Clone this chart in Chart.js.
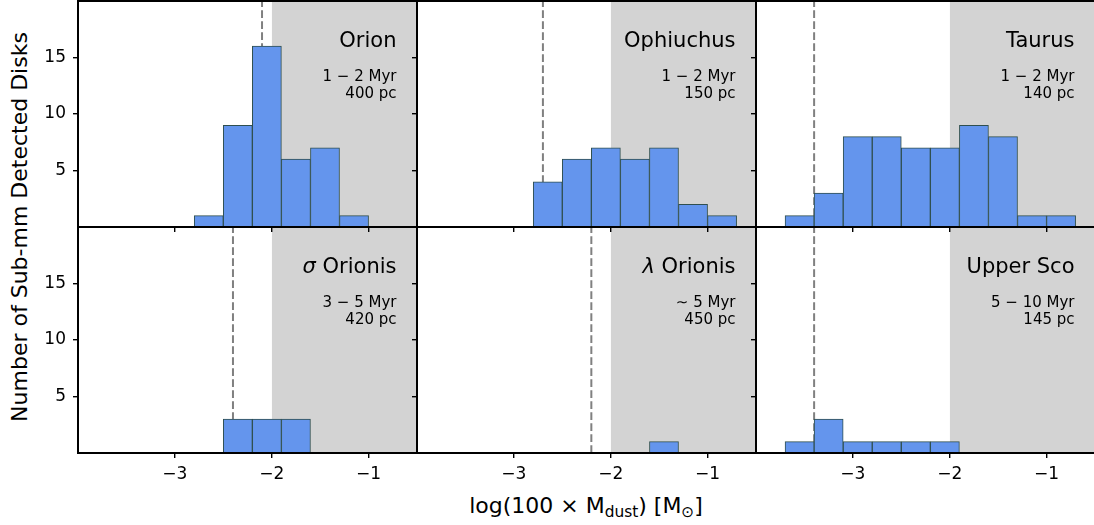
<!DOCTYPE html>
<html>
<head>
<meta charset="utf-8">
<title>Sub-mm detected disk masses by region</title>
<script src="https://cdn.jsdelivr.net/npm/chart.js@4/dist/chart.umd.min.js"></script>
<style>
  html, body { margin: 0; padding: 0; background: #fff; }
  body { width: 1094px; height: 525px; position: relative; overflow: hidden;
         font-family: "DejaVu Sans", sans-serif; color: #000; }
  canvas { position: absolute; }
  .ylab { position: absolute; left: 20px; top: 227px; font-size: 22px; line-height: 1;
          white-space: nowrap; transform: translate(-50%, -50%) rotate(-90deg); }
  .xlab { position: absolute; left: 586px; top: 495px; font-size: 22px; line-height: 1;
          white-space: nowrap; transform: translateX(-50%); }
  .sub { font-size: 70%; position: relative; top: 4px; }
</style>
</head>
<body>
<div class="ylab">Number of Sub-mm Detected Disks</div>
<div class="xlab">log(100 × M<span class="sub">dust</span>) [M<span class="sub">⊙</span>]</div>
<script>
// Histogram bins (centres, log units) shared by every region
const binCenters = [-3.55, -3.25, -2.95, -2.65, -2.35, -2.05, -1.75, -1.45, -1.15, -0.85];

// Region labels
const regionNames = ['Orion', 'Ophiuchus', 'Taurus', 'σ Orionis', 'λ Orionis', 'Upper Sco'];
const regionAges = ['1 − 2 Myr', '1 − 2 Myr', '1 − 2 Myr', '3 − 5 Myr', '∼ 5 Myr', '5 − 10 Myr'];
const regionDistances = ['400 pc', '150 pc', '140 pc', '420 pc', '450 pc', '145 pc'];

// Detected-disk counts per bin
const countsOrion     = [0, 0, 0, 1, 9, 16, 6, 7, 1, 0];
const countsOphiuchus = [0, 0, 0, 4, 6, 7, 6, 7, 2, 1];
const countsTaurus    = [1, 3, 8, 8, 7, 7, 9, 8, 1, 1];
const countsSigmaOri  = [0, 0, 0, 0, 3, 3, 3, 0, 0, 0];
const countsLambdaOri = [0, 0, 0, 0, 0, 0, 0, 1, 0, 0];
const countsUpperSco  = [1, 3, 1, 1, 1, 1, 0, 0, 0, 0];

// Sensitivity limit of each survey (dashed line)
const sensitivityLimits = [-2.1, -2.7, -3.4, -2.4, -2.2, -3.4];

// Shaded mass range starts here and runs to the right edge
const shadeStart = -2.0;

// Axis ranges and ticks
const xRange = [-4, -0.5];
const yRange = [0, 20];
const xTicks = [-3, -2, -1];
const yTicks = [5, 10, 15];

const allCounts = [countsOrion, countsOphiuchus, countsTaurus,
                   countsSigmaOri, countsLambdaOri, countsUpperSco];

// Panel grid geometry (pixels)
const colLeft = [78, 417, 756];
const rowTop = [1, 227];
const panelW = 339, panelH = 226;
const FONT = '"DejaVu Sans"';

// Frame + region annotations
const panelDecor = {
  id: 'panelDecor',
  afterDraw(chart, args, opts) {
    const { ctx, chartArea: a } = chart;
    ctx.save();
    ctx.strokeStyle = '#000';
    ctx.lineWidth = 2;
    ctx.strokeRect(a.left, a.top, a.right - a.left, a.bottom - a.top);

    const xr = a.right - 20.5;
    ctx.fillStyle = '#000';
    ctx.textAlign = 'right';
    ctx.textBaseline = 'alphabetic';
    ctx.font = '21px ' + FONT;
    const m = opts.name.match(/^([σλ])(.*)$/);
    if (m) {
      ctx.fillText(m[2], xr, a.top + 45.5);
      const w = ctx.measureText(m[2]).width;
      ctx.font = 'italic 21px ' + FONT;
      ctx.fillText(m[1], xr - w, a.top + 45.5);
    } else {
      ctx.fillText(opts.name, xr, a.top + 45.5);
    }
    ctx.font = '15px ' + FONT;
    ctx.fillText(opts.age, xr, a.top + 79.5);
    ctx.fillText(opts.dist, xr, a.top + 96.5);
    ctx.restore();
  }
};

// keep the plot area fixed: no extra room for overhanging tick labels
function noLabelPadding(s) {
  s.paddingTop = 0; s.paddingBottom = 0; s.paddingLeft = 0; s.paddingRight = 0;
}

function makePanel(idx) {
  const r = Math.floor(idx / 3), c = idx % 3;
  const L = c === 0 ? 78 : 12, R = 4, T = 4, B = r === 1 ? 40 : 12;
  const cw = L + panelW + R, ch = T + panelH + B;

  const canvas = document.createElement('canvas');
  canvas.width = cw; canvas.height = ch;
  canvas.style.width = cw + 'px'; canvas.style.height = ch + 'px';
  canvas.style.left = (colLeft[c] - L) + 'px';
  canvas.style.top = (rowTop[r] - T) + 'px';
  canvas.style.zIndex = String((r === 0 ? 10 : 0) + c);
  document.body.appendChild(canvas);

  const lim = sensitivityLimits[idx];
  const counts = allCounts[idx];

  new Chart(canvas, {
    type: 'bar',
    data: {
      datasets: [
        {
          type: 'bar',
          data: binCenters.map((x, i) => ({ x: x, y: counts[i] })),
          backgroundColor: '#6495ED',
          borderColor: '#2F4F4F',
          borderWidth: 1,
          borderSkipped: false,
          barPercentage: 1,
          categoryPercentage: 1,
          order: 0
        },
        {
          type: 'line',
          data: [{ x: lim, y: yRange[0] }, { x: lim, y: yRange[1] }],
          borderColor: '#808080',
          borderWidth: 2,
          borderDash: [7.7, 3.3],
          pointRadius: 0,
          fill: false,
          order: 1
        },
        {
          type: 'line',
          data: [{ x: shadeStart, y: yRange[1] }, { x: xRange[1], y: yRange[1] }],
          borderColor: 'rgba(0,0,0,0)',
          borderWidth: 0,
          backgroundColor: '#D3D3D3',
          fill: 'origin',
          pointRadius: 0,
          order: 2
        }
      ]
    },
    options: {
      responsive: false,
      animation: false,
      events: [],
      layout: { padding: { left: 0, right: R, top: T, bottom: 0 } },
      plugins: {
        legend: { display: false },
        tooltip: { enabled: false },
        panelDecor: { name: regionNames[idx], age: regionAges[idx], dist: regionDistances[idx] }
      },
      scales: {
        x: {
          type: 'linear',
          min: xRange[0], max: xRange[1],
          offset: false,
          afterBuildTicks: s => { s.ticks = xTicks.map(v => ({ value: v })); },
          afterFit: s => { s.height = B; noLabelPadding(s); },
          grid: { display: true, drawOnChartArea: false, drawTicks: true, tickLength: 5,
                  color: '#000', lineWidth: 1.4, offset: false },
          border: { display: false },
          ticks: {
            display: r === 1,
            color: '#000',
            font: { size: 17, family: FONT },
            padding: 6,
            maxRotation: 0,
            autoSkip: false,
            callback: v => String(v).replace('-', '\u2212')
          }
        },
        y: {
          type: 'linear',
          min: yRange[0], max: yRange[1],
          afterBuildTicks: s => { s.ticks = yTicks.map(v => ({ value: v })); },
          afterFit: s => { s.width = L; noLabelPadding(s); },
          grid: { display: true, drawOnChartArea: false, drawTicks: true, tickLength: 5,
                  color: '#000', lineWidth: 1.4 },
          border: { display: false },
          ticks: {
            display: c === 0,
            color: '#000',
            font: { size: 17, family: FONT },
            padding: 7
          }
        }
      }
    },
    plugins: [panelDecor]
  });
}

for (let i = 0; i < 6; i++) makePanel(i);
</script>
</body>
</html>
